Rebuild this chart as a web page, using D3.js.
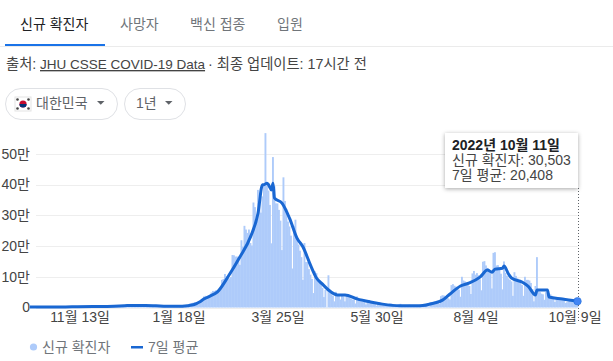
<!DOCTYPE html>
<html lang="ko">
<head>
<meta charset="utf-8">
<script src="https://cdn.jsdelivr.net/npm/d3@7"></script>
<style>
  html, body { margin: 0; padding: 0; background: #fff; overflow: hidden; }
  svg text { font-family: "Liberation Sans", "Noto Sans CJK KR", sans-serif; }
  .axis path, .axis line { display: none; }
  .axis text { font-size: 14px; fill: #444; font-family: "Liberation Sans", "Noto Sans CJK KR", sans-serif; }
</style>
</head>
<body>
<div id="chart"></div>
<script>
var startDate = "2021-10-11";

// daily new cases in thousands, one row per week, Monday first
var dailyCases = [
  1.4, 1.6, 1.6, 1.7, 1.7, 1.6, 1.4,
  1.0, 1.4, 1.6, 1.6, 1.5, 1.4, 1.4,
  1.2, 1.3, 1.9, 1.9, 2.1, 2.0, 1.7,
  1.6, 1.6, 2.7, 2.5, 2.3, 2.2, 2.2,
  1.8, 1.7, 2.4, 2.5, 2.4, 2.4, 2.4,
  2.0, 2.1, 3.2, 3.3, 3.0, 3.2, 3.1,
  2.8, 2.7, 4.1, 4.0, 3.9, 3.9, 3.9,
  3.3, 3.0, 5.1, 5.3, 5.3, 5.3, 5.1,
  4.3, 4.9, 7.2, 7.1, 7.0, 7.0, 6.7,
  5.8, 5.6, 7.8, 7.6, 7.4, 7.3, 6.2,
  5.2, 5.2, 7.4, 6.9, 6.2, 5.8, 4.9,
  3.9, 3.9, 5.4, 5.0, 5.0, 4.9, 3.8,
  3.1, 3.1, 4.4, 4.1, 3.5, 3.5, 3.4,
  3.0, 3.0, 4.4, 4.1, 4.0, 3.8, 3.8,
  3.9, 4.1, 5.8, 6.6, 6.8, 7.0, 7.6,
  8.6, 8.5, 13, 14.5, 16, 17.5, 17.5,
  18, 20, 22, 27, 36, 38, 36,
  35, 36, 49, 54, 54, 56, 54,
  54, 57, 90, 93, 109, 102, 104,
  95, 99, 171, 170, 166, 166, 163,
  139, 219, 198, 266, 254, 243, 254,
  210, 202, 342, 327, 282, 383, 350,
  309, 362, 400, 568, 407, 381, 334,
  209, 490, 395, 339, 339, 318, 283,
  187, 424, 347, 321, 280, 264, 234,
  127, 266, 286, 224, 205, 185, 164,
  90, 210, 148, 148, 125, 107, 93,
  47, 118, 112, 90, 81, 75, 64,
  34, 57, 1, 105, 50, 43, 38,
  20, 51, 43, 42, 26, 40, 36,
  20, 44, 35, 33, 29, 26, 25,
  13, 36, 27, 24, 23, 26, 20,
  10, 22, 24, 18, 16, 16, 11,
  6, 13, 17, 13, 12, 10, 9,
  5, 8, 13, 13, 9, 8, 7,
  6, 9, 12, 8, 7, 7, 6,
  4, 9, 8, 7, 6, 6, 5,
  3, 9, 9, 8, 7, 6, 4,
  3, 18, 18, 18, 19, 20, 16,
  12, 37, 40, 39, 35, 41, 30,
  26, 73, 76, 71, 68, 65, 58,
  35, 100, 88, 85, 81, 73, 70,
  44, 111, 119, 107, 112, 105, 92,
  56, 149, 151, 137, 129, 124, 112,
  62, 178, 180, 137, 138, 125, 110,
  59, 150, 113, 103, 95, 90, 85,
  38, 115, 103, 95, 88, 81, 73,
  38, 100, 90, 90, 88, 80, 60,
  20, 70, 164, 55, 50, 45, 43,
  25, 50, 50, 47, 43, 38, 35,
  18, 32, 30, 30, 27, 25, 23,
  15, 17, 20, 25, 23, 22, 20,
  14, 30.503
];

// 7 day average: days since startDate and value in thousands
var avgDays = [0, 14, 28, 42, 56, 63, 70, 77, 84, 91, 98, 105, 108, 111, 113, 116, 120, 125, 132, 140, 147, 152, 155, 156, 158, 159, 161, 162, 163, 168, 173, 178, 182, 187, 191, 195, 199, 205, 210, 218, 227, 235, 247, 260, 269, 275, 280, 287, 293, 300, 305, 308, 310, 315, 316, 319, 321, 328, 332, 337, 338, 345, 346, 355, 365];
var avgValues = [1.6, 1.6, 2.3, 3.1, 4.4, 5.8, 6.8, 6.6, 5.5, 4.2, 3.9, 5.8, 8, 13, 18, 28, 37, 51, 100, 165, 230, 307, 400, 400, 405, 400, 383, 405, 356, 340, 291, 226, 197, 138, 96, 76, 57, 41, 41, 28, 18, 11, 6, 6, 14, 24, 44, 70, 80, 99, 122, 115, 125, 128, 135, 109, 96, 83, 70, 41, 57, 57, 34, 28, 20.408];

var yTicks = [0, 100, 200, 300, 400, 500];
var yTickLabels = ["0", "10만", "20만", "30만", "40만", "50만"];
var xTickDates = ["2021-11-13", "2022-01-18", "2022-03-25", "2022-05-30", "2022-08-04", "2022-10-09"];
var tabLabels = ["신규 확진자", "사망자", "백신 접종", "입원"];
var tabX = [20, 120, 190, 277];
var tooltipLines = ["신규 확진자: 30,503", "7일 평균: 20,408"];

var width = 613, height = 361;
var parseDay = d3.utcParse("%Y-%m-%d");
var start = parseDay(startDate);

var svg = d3.select("#chart").append("svg")
  .attr("width", width)
  .attr("height", height)
  .style("display", "block");

var x = d3.scaleUtc()
  .domain([start, d3.utcDay.offset(start, 365)])
  .range([30, 577.5]);

var y = d3.scaleLinear()
  .domain([0, 500])
  .range([307.5, 154]);

// header, tabs first
svg.selectAll(".tab")
  .data(tabLabels)
  .enter()
  .append("text")
  .attr("class", "tab")
  .attr("x", function(d, i) { return tabX[i]; })
  .attr("y", 29)
  .style("font-size", "14px")
  .style("fill", function(d, i) { return i == 0 ? "#202124" : "#70757a"; })
  .text(function(d) { return d; });

svg.append("rect").attr("x", 0).attr("y", 46).attr("width", width).attr("height", 1).attr("fill", "#ebebeb");
svg.append("rect").attr("x", 5).attr("y", 44).attr("width", 100).attr("height", 2).attr("fill", "#1a73e8");

// the three pieces are placed apart because the Latin part runs narrower than the Korean part
svg.append("text").attr("x", 6).attr("y", 69)
  .style("font-size", "14.3px").style("fill", "#444").text("출처:");
svg.append("text").attr("x", 40).attr("y", 69)
  .style("font-size", "13.5px").style("fill", "#444").style("text-decoration", "underline")
  .text("JHU CSSE COVID-19 Data");
svg.append("text").attr("x", 208).attr("y", 69)
  .style("font-size", "14.3px").style("fill", "#444").text("· 최종 업데이트: 17시간 전");

// dropdown pills
function pill(px, w, label, labelX) {
  svg.append("rect")
    .attr("x", px + 0.5).attr("y", 88.5)
    .attr("width", w).attr("height", 31).attr("rx", 15.5)
    .attr("fill", "#fff").attr("stroke", "#dfe1e5");
  svg.append("text")
    .attr("x", labelX).attr("y", 108)
    .style("font-size", "14px").style("fill", "#5f6368")
    .text(label);
  var ax = px + w - 20;
  svg.append("path")
    .attr("d", "M" + ax + ",101 l7.5,0 l-3.75,3.75 z")
    .attr("fill", "#5f6368");
}
pill(5, 112, "대한민국", 36);
pill(124, 61, "1년", 136);

// flag
var flag = svg.append("g").attr("transform", "translate(15,97)");
flag.append("rect").attr("width", 16).attr("height", 14).attr("fill", "#fff").attr("stroke", "#e3e3e3");
flag.append("circle").attr("cx", 8).attr("cy", 7).attr("r", 3.6).attr("fill", "#c60c30");
flag.append("path").attr("d", "M4.4,7 a3.6,3.6 0 0 0 7.2,0 z").attr("fill", "#003478");
[[2.5, 2.5], [13.5, 2.5], [2.5, 11.5], [13.5, 11.5]].forEach(function(p) {
  flag.append("circle").attr("cx", p[0]).attr("cy", p[1]).attr("r", 1.3).attr("fill", "#444");
});

// grid
svg.selectAll(".grid")
  .data(yTicks)
  .enter()
  .append("line")
  .attr("class", "grid")
  .attr("x1", 36)
  .attr("x2", 577.5)
  .attr("y1", function(d) { return Math.round(y(d)) + 0.5; })
  .attr("y2", function(d) { return Math.round(y(d)) + 0.5; })
  .attr("stroke", "#eeeeee");

// bars, a touch wider than one day so the fill stays solid
svg.append("g")
  .selectAll("rect")
  .data(dailyCases)
  .enter()
  .append("rect")
  .attr("x", function(d, i) { return x(d3.utcDay.offset(start, i)) - 1; })
  .attr("y", function(d) { return y(d); })
  .attr("width", 1.9)
  .attr("height", function(d) { return y(0) - y(d); })
  .attr("fill", "#aecbfa");

// 7 day average
var avgLine = d3.line()
  .x(function(d) { return x(d3.utcDay.offset(start, d)); })
  .y(function(d, i) { return y(avgValues[i]); })
  .curve(d3.curveMonotoneX);

svg.append("path")
  .datum(avgDays)
  .attr("d", avgLine)
  .attr("fill", "none")
  .attr("stroke", "#1967d2")
  .attr("stroke-width", 3)
  .attr("stroke-linejoin", "round");

// axes
svg.append("g")
  .attr("class", "axis")
  .attr("transform", "translate(33,0)")
  .call(d3.axisLeft(y).tickValues(yTicks).tickSize(0)
    .tickFormat(function(d, i) { return yTickLabels[i]; }))
  .selectAll("text")
  .attr("dy", "0.3em");

svg.append("g")
  .attr("class", "axis")
  .attr("transform", "translate(0,309)")
  .call(d3.axisBottom(x).tickValues(xTickDates.map(parseDay)).tickSize(0)
    .tickFormat(d3.utcFormat("%-m월 %-d일")));

// hover marker and tooltip
svg.append("line")
  .attr("x1", 578.5).attr("x2", 578.5)
  .attr("y1", 188).attr("y2", 322)
  .attr("stroke", "#5f6368")
  .attr("stroke-dasharray", "1,2");

svg.append("circle")
  .attr("cx", x(d3.utcDay.offset(start, 365)))
  .attr("cy", y(20.408))
  .attr("r", 3.8)
  .attr("fill", "#4285f4")
  .attr("stroke", "#1967d2")
  .attr("stroke-width", 0.5);

var tip = svg.append("g");
tip.append("rect")
  .attr("x", 445).attr("y", 133)
  .attr("width", 133).attr("height", 55)
  .attr("fill", "#fff")
  .style("filter", "drop-shadow(0 1px 2px rgba(0,0,0,0.35))");
tip.append("text")
  .attr("x", 452).attr("y", 150)
  .style("font-size", "14px").style("font-weight", "bold").style("fill", "#202124")
  .text("2022년 10월 11일");
tip.selectAll(".tip-line")
  .data(tooltipLines)
  .enter()
  .append("text")
  .attr("class", "tip-line")
  .attr("x", 452)
  .attr("y", function(d, i) { return 165 + i * 15; })
  .style("font-size", "14px")
  .style("fill", "#444")
  .text(function(d) { return d; });

// legend
svg.append("circle").attr("cx", 33.5).attr("cy", 347).attr("r", 3.6).attr("fill", "#aecbfa");
svg.append("text").attr("x", 42).attr("y", 352).style("font-size", "14px").style("fill", "#70757a").text("신규 확진자");
svg.append("rect").attr("x", 131).attr("y", 346).attr("width", 12).attr("height", 2.5).attr("fill", "#1967d2");
svg.append("text").attr("x", 148).attr("y", 352).style("font-size", "14px").style("fill", "#70757a").text("7일 평균");
</script>
</body>
</html>
